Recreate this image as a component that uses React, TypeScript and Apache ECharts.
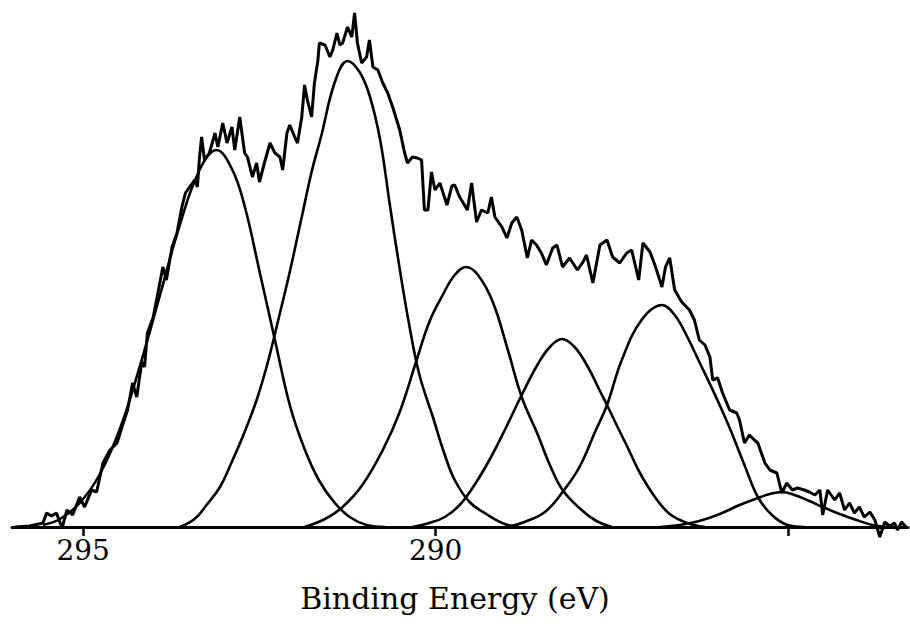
import { useEffect, useRef } from "react";
import * as echarts from "echarts";

// Measured spectrum (binding energy in eV, intensity in arbitrary units)
const envelopeEnergy = [
  295.97, 295.76, 295.57, 295.52, 295.45, 295.38, 295.3, 295.23, 295.15, 295.05, 294.98, 294.88, 294.81, 294.72,
  294.62, 294.52, 294.45, 294.37, 294.3, 294.24, 294.17, 294.13, 294.09, 294.01, 293.94, 293.87, 293.82, 293.74,
  293.67, 293.6, 293.55, 293.49, 293.42, 293.38, 293.35, 293.32, 293.28, 293.21, 293.13, 293.09, 293.02, 292.96,
  292.89, 292.85, 292.78, 292.71, 292.67, 292.6, 292.54, 292.5, 292.43, 292.35, 292.28, 292.21, 292.17, 292.11,
  292.07, 292.0, 291.96, 291.9, 291.86, 291.82, 291.76, 291.72, 291.67, 291.65, 291.57, 291.5, 291.46, 291.4,
  291.36, 291.32, 291.25, 291.19, 291.15, 291.11, 291.05, 290.98, 290.94, 290.89, 290.82, 290.75, 290.68, 290.61,
  290.51, 290.44, 290.4, 290.33, 290.26, 290.2, 290.16, 290.11, 290.06, 290.01, 289.94, 289.84, 289.77, 289.73,
  289.66, 289.55, 289.49, 289.42, 289.35, 289.26, 289.21, 289.16, 289.06, 288.99, 288.92, 288.85, 288.78, 288.7,
  288.64, 288.57, 288.5, 288.43, 288.34, 288.28, 288.2, 288.1, 287.99, 287.91, 287.86, 287.77, 287.67, 287.63,
  287.57, 287.49, 287.39, 287.29, 287.22, 287.12, 287.06, 286.96, 286.89, 286.79, 286.74, 286.68, 286.61, 286.51,
  286.4, 286.33, 286.26, 286.18, 286.11, 286.07, 286.0, 285.93, 285.83, 285.73, 285.69, 285.62, 285.55, 285.48,
  285.43, 285.33, 285.26, 285.16, 285.09, 285.02, 284.94, 284.87, 284.77, 284.7, 284.62, 284.55, 284.51, 284.44,
  284.34, 284.27, 284.2, 284.13, 284.06, 283.99, 283.92, 283.84, 283.77, 283.7, 283.63, 283.56, 283.49, 283.45,
  283.39, 283.33,
];
const envelopeCounts = [
  0, 1, 4, 14, 11, 14, -1, 17, 12, 30, 20, 37, 35, 64,
  77, 84, 100, 117, 144, 130, 165, 160, 194, 209, 234, 260, 247, 280,
  294, 320, 334, 340, 347, 340, 370, 390, 367, 374, 394, 380, 404, 384,
  400, 377, 410, 374, 370, 350, 364, 345, 364, 384, 374, 370, 357, 394,
  402, 390, 384, 410, 442, 427, 410, 444, 467, 484, 482, 470, 477, 494,
  482, 484, 500, 490, 514, 484, 464, 470, 487, 460, 457, 444, 434, 420,
  397, 374, 364, 370, 369, 367, 317, 317, 355, 337, 344, 322, 341, 342,
  330, 317, 344, 305, 317, 314, 330, 310, 300, 289, 304, 310, 297, 269,
  287, 282, 274, 262, 279, 282, 260, 269, 257, 265, 272, 244, 282, 284,
  287, 270, 264, 274, 277, 247, 284, 275, 262, 240, 260, 269, 237, 225,
  217, 207, 187, 182, 170, 147, 149, 134, 117, 114, 107, 84, 92, 87,
  84, 64, 57, 54, 34, 44, 37, 39, 37, 35, 32, 37, 12, 37,
  27, 34, 17, 24, 14, 20, 10, 15, 7, -10, 5, 1, 4, -3,
  5, 0,
];

// Fitted components
const peak1Energy = [295.57, 295.33, 295.05, 294.77, 294.48, 294.2, 293.91, 293.63, 293.35, 293.11, 292.89, 292.71, 292.5, 292.28, 292.07, 291.86, 291.65, 291.43, 291.22, 290.98, 290.72];
const peak1Counts = [2, 8, 24, 52, 98, 160, 232, 302, 357, 377, 358, 321, 256, 187, 122, 78, 46, 24, 10, 2, 0];

const peak2Energy = [293.63, 293.42, 293.25, 293.06, 292.88, 292.71, 292.54, 292.38, 292.24, 292.07, 291.9, 291.76, 291.62, 291.43, 291.25, 291.08, 290.94, 290.79, 290.65, 290.51, 290.37, 290.23, 290.04, 289.87, 289.73, 289.52, 289.26, 289.02, 288.81];
const peak2Counts = [0, 8, 22, 40, 67, 95, 127, 165, 205, 255, 310, 355, 392, 445, 466, 455, 432, 388, 322, 258, 200, 152, 110, 72, 47, 25, 12, 3, 0];

const peak3Energy = [291.86, 291.57, 291.32, 291.04, 290.75, 290.51, 290.27, 290.09, 289.9, 289.73, 289.57, 289.4, 289.19, 288.98, 288.78, 288.55, 288.38, 288.2, 287.93, 287.72, 287.5];
const peak3Counts = [0, 8, 20, 42, 77, 115, 167, 205, 232, 252, 260, 252, 225, 178, 130, 92, 62, 37, 17, 6, 0];

const peak4Energy = [290.33, 290.09, 289.87, 289.66, 289.45, 289.23, 289.02, 288.78, 288.55, 288.38, 288.21, 288.03, 287.84, 287.67, 287.57, 287.42, 287.28, 287.11, 286.89, 286.68, 286.43, 286.18];
const peak4Counts = [0, 4, 10, 22, 42, 68, 97, 132, 163, 180, 188, 180, 160, 136, 122, 100, 80, 55, 30, 13, 4, 0];

const peak5Energy = [288.98, 288.74, 288.45, 288.2, 287.96, 287.74, 287.57, 287.36, 287.08, 286.79, 286.61, 286.43, 286.26, 286.09, 285.94, 285.8, 285.62, 285.43, 285.23, 285.01, 284.77];
const peak5Counts = [0, 5, 15, 35, 60, 95, 122, 167, 207, 222, 212, 190, 165, 140, 117, 94, 62, 30, 12, 2, 0];

const peak6Energy = [286.82, 286.54, 286.26, 285.97, 285.69, 285.43, 285.26, 285.09, 284.91, 284.7, 284.51, 284.27, 284.03, 283.8, 283.56];
const peak6Counts = [0, 2, 6, 13, 22, 29, 33, 35, 32, 26, 20, 13, 7, 2, 0];

const tickValues = [295, 290, 285];
const labelValues = [295, 290];
const xAxisTitle = "Binding Energy (eV)";

const zip = (xs: number[], ys: number[]) => xs.map((x, i) => [x, ys[i]]);

export default function App() {
  const ref = useRef<HTMLDivElement>(null);

  useEffect(() => {
    if (!ref.current) return;
    const chart = echarts.init(ref.current, null, { renderer: "svg" });
    const peaks: [number[], number[]][] = [
      [peak1Energy, peak1Counts],
      [peak2Energy, peak2Counts],
      [peak3Energy, peak3Counts],
      [peak4Energy, peak4Counts],
      [peak5Energy, peak5Counts],
      [peak6Energy, peak6Counts],
    ];
    chart.setOption({
      animation: false,
      backgroundColor: "#ffffff",
      title: {
        text: xAxisTitle,
        left: "center",
        top: 583,
        padding: 0,
        textStyle: {
          fontFamily: "DejaVu Serif",
          fontSize: 30,
          fontWeight: "normal",
          color: "#000",
        },
      },
      grid: { left: 12, right: 2, top: 7, bottom: 109 },
      xAxis: {
        type: "value",
        inverse: true,
        min: 283.3,
        max: 296.01,
        axisLine: { show: true, onZero: false, lineStyle: { color: "#000", width: 3 } },
        axisTick: {
          show: true,
          customValues: tickValues,
          length: 9,
          lineStyle: { color: "#000", width: 2.5 },
        },
        axisLabel: {
          customValues: labelValues,
          color: "#000",
          fontFamily: "DejaVu Serif",
          fontSize: 28,
          margin: 9,
        },
        splitLine: { show: false },
      },
      yAxis: { type: "value", min: 0, max: 520, show: false },
      series: [
        {
          type: "line",
          data: zip(envelopeEnergy, envelopeCounts),
          showSymbol: false,
          clip: false,
          lineStyle: { color: "#000", width: 3 },
        },
        ...peaks.map(([e, c]) => ({
          type: "line",
          data: zip(e, c),
          showSymbol: false,
          smooth: 0.4,
          clip: false,
          lineStyle: { color: "#000", width: 2.6 },
        })),
      ],
    });
    return () => chart.dispose();
  }, []);

  return (
    <div
      ref={ref}
      style={{ position: "absolute", left: 0, top: 0, width: 910, height: 636, background: "#fff" }}
    />
  );
}
